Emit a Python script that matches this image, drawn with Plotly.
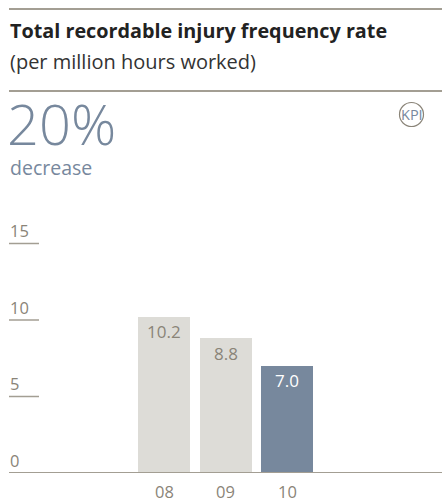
import plotly.graph_objects as go

years = ["08", "09", "10"]
values = [10.2, 8.8, 7.0]
bar_colors = ["#dddcd7", "#dddcd7", "#77889d"]
label_colors = ["#8a8478", "#8a8478", "#ffffff"]
y_ticks = [0, 5, 10, 15]

W, H = 442, 502
B = 29                    # bottom margin -> baseline at y=473
PH = H - B                # plot height in px
PX_PER_UNIT = 15.3
Y_MAX = PH / PX_PER_UNIT
SLOT = 61.5
X0 = 164                  # pixel centre of first bar
XMIN = -X0 / SLOT
XMAX = (W - X0) / SLOT

def px(x):
    return x / W

def py(y):
    return (PH - y) / PH

RULE = "#a39e93"
SLATE = "#77889d"
FONT = "Open Sans"

fig = go.Figure()
fig.add_trace(go.Bar(
    x=list(range(len(years))), y=values,
    marker=dict(color=bar_colors, line=dict(width=0)),
    width=52 / SLOT, hoverinfo="skip",
))

shapes = []
annotations = []

# header rules
for yy in (9, 91):
    shapes.append(dict(type="line", xref="paper", yref="paper",
                       x0=px(9), x1=1, y0=py(yy), y1=py(yy),
                       line=dict(color=RULE, width=2)))

annotations.append(dict(xref="paper", yref="paper", x=px(8), y=py(31),
                        text="<b>Total recordable injury frequency rate</b>",
                        showarrow=False, xanchor="left", yanchor="middle",
                        font=dict(family=FONT, size=19.8, color="#222222")))
annotations.append(dict(xref="paper", yref="paper", x=px(8), y=py(61),
                        text="(per million hours worked)",
                        showarrow=False, xanchor="left", yanchor="middle",
                        font=dict(family=FONT, size=20, color="#333333")))
annotations.append(dict(xref="paper", yref="paper", x=px(5), y=py(123),
                        text="20%", showarrow=False, xanchor="left", yanchor="middle",
                        font=dict(family=FONT, size=56, color=SLATE, weight=300)))
annotations.append(dict(xref="paper", yref="paper", x=px(8), y=py(167),
                        text="decrease", showarrow=False, xanchor="left", yanchor="middle",
                        font=dict(family=FONT, size=19.5, color=SLATE)))

# KPI badge
shapes.append(dict(type="circle", xref="paper", yref="paper",
                   x0=px(399.5), x1=px(423.5), y0=py(102.5), y1=py(126.5),
                   line=dict(color="#8a8478", width=1.2)))
annotations.append(dict(xref="paper", yref="paper", x=px(411.5), y=py(114.5),
                        text="KPI", showarrow=False, xanchor="center", yanchor="middle",
                        font=dict(family=FONT, size=14.5, color=SLATE)))

# y ticks: short rules with labels above
for t in y_ticks:
    if t > 0:
        shapes.append(dict(type="line", xref="paper", yref="y",
                           x0=px(9), x1=px(39), y0=t, y1=t,
                           line=dict(color=RULE, width=1.5)))
    annotations.append(dict(xref="paper", yref="y", x=px(8), y=t, yshift=13,
                            text=str(t), showarrow=False, xanchor="left", yanchor="middle",
                            font=dict(family=FONT, size=16.5, color="#8a8478")))

# baseline
shapes.append(dict(type="line", xref="paper", yref="y",
                   x0=px(9), x1=1, y0=0, y1=0,
                   line=dict(color=RULE, width=2)))

# bar value labels and x labels
for i, (yr, v) in enumerate(zip(years, values)):
    annotations.append(dict(xref="x", yref="y", x=i, y=v, yshift=-15,
                            text=f"{v:.1f}", showarrow=False, xanchor="center", yanchor="middle",
                            font=dict(family=FONT, size=17, color=label_colors[i])))
    annotations.append(dict(xref="x", yref="y", x=i, y=0, yshift=-18,
                            text=yr, showarrow=False, xanchor="center", yanchor="middle",
                            font=dict(family=FONT, size=16.5, color="#8a8478")))

fig.update_layout(
    width=W, height=H,
    margin=dict(l=0, r=0, t=0, b=B),
    paper_bgcolor="white", plot_bgcolor="white",
    showlegend=False,
    xaxis=dict(range=[XMIN, XMAX], visible=False, fixedrange=True),
    yaxis=dict(range=[0, Y_MAX], visible=False, fixedrange=True),
    shapes=shapes, annotations=annotations,
    bargap=0,
)

fig.write_html("out.html", config={"displayModeBar": False})
